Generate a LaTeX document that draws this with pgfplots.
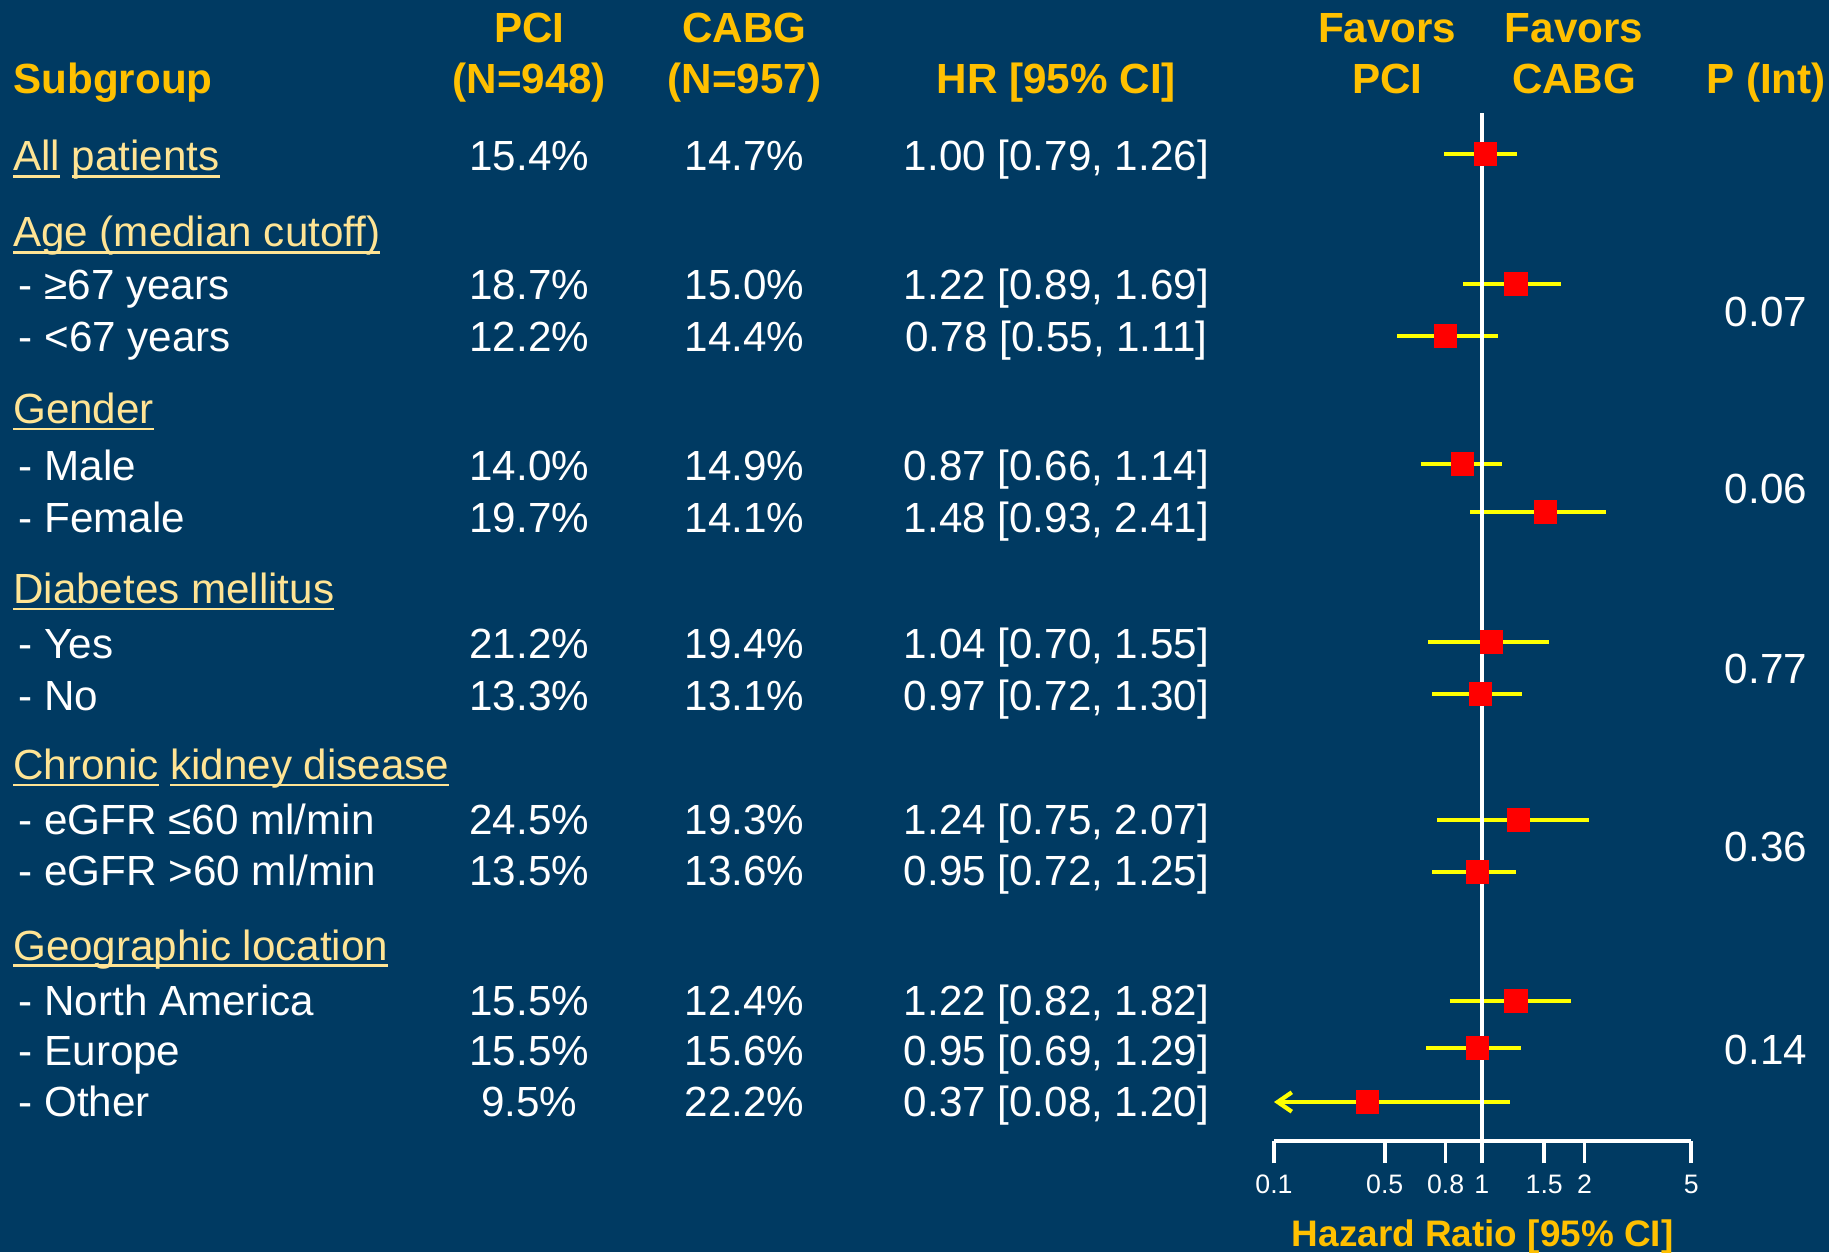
\documentclass[border=0pt]{standalone}
\usepackage{fontspec}
\setmainfont{Liberation Sans}
\usepackage{pgfplots}
\pgfplotsset{compat=1.18}
\usepackage{pgfplotstable}
\usetikzlibrary{arrows.meta}
\definecolor{bg}{RGB}{0,58,98}
\definecolor{gold}{RGB}{255,192,0}
\definecolor{head}{RGB}{255,228,148}
\definecolor{ciyellow}{RGB}{255,255,0}
\newlength\ulw
\newcommand\ul[1]{\settowidth{\ulw}{#1}\rlap{\rule[-0.16em]{\ulw}{0.065em}}#1}

% hazard ratio, 95% CI, row position
\pgfplotstableread{
hr   lo   hi   y
1.00 0.79 1.26 1098
1.22 0.89 1.69 968
0.78 0.55 1.11 916
0.87 0.66 1.14 788
1.48 0.93 2.41 740
1.04 0.70 1.55 610
0.97 0.72 1.30 558
1.24 0.75 2.07 432
0.95 0.72 1.25 380
1.22 0.82 1.82 251
0.95 0.69 1.29 204
0.37 0.08 1.20 150
}\forest

\begin{document}
\begin{tikzpicture}
\fill[bg] (0,0) rectangle (18.29cm,12.52cm);
\useasboundingbox (0,0) rectangle (18.29cm,12.52cm);

\begin{scope}[shift={(0cm,12.52cm)}, x=0.01cm, y=-0.01cm,
  tb/.style={inner sep=0pt, text=white, font=\fontsize{12}{14}\selectfont, anchor=base},
  tl/.style={inner sep=0pt, text=white, font=\fontsize{12}{14}\selectfont, anchor=base west},
  hd/.style={inner sep=0pt, text=gold, font=\bfseries\fontsize{12}{14}\selectfont, anchor=base},
  hg/.style={inner sep=0pt, text=head, font=\fontsize{12}{14}\selectfont, anchor=base west}]
% header
\node[hd] at (529.6,43) {PCI};
\node[hd] at (745,43) {CABG};
\node[hd] at (1388,43) {Favors};
\node[hd] at (1575,43) {Favors};
\node[hd,anchor=base west] at (12.8,94) {Subgroup};
\node[hd] at (529.6,94) {(N=948)};
\node[hd] at (745,94) {(N=957)};
\node[hd] at (1057,94) {HR [95\% CI]};
\node[hd] at (1388,94) {PCI};
\node[hd] at (1575,94) {CABG};
\node[hd] at (1767,94) {P (Int)};
% rows
\node[hg] at (12.5,171) {\ul{All} \ul{patients}};
\node[tb] at (529.6,171) {15.4\%};
\node[tb] at (745,171) {14.7\%};
\node[tb] at (1057,171) {1.00 [0.79, 1.26]};

\node[hg] at (12.5,247) {\ul{Age (median cutoff)}};
\node[tl] at (18,300) {- ≥67 years};
\node[tb] at (529.6,300) {18.7\%};
\node[tb] at (745,300) {15.0\%};
\node[tb] at (1057,300) {1.22 [0.89, 1.69]};
\node[tl] at (18,352) {- <67 years};
\node[tb] at (529.6,352) {12.2\%};
\node[tb] at (745,352) {14.4\%};
\node[tb] at (1057,352) {0.78 [0.55, 1.11]};
\node[tb] at (1767,327) {0.07};

\node[hg] at (12.5,424) {\ul{Gender}};
\node[tl] at (18,481) {- Male};
\node[tb] at (529.6,481) {14.0\%};
\node[tb] at (745,481) {14.9\%};
\node[tb] at (1057,481) {0.87 [0.66, 1.14]};
\node[tl] at (18,533) {- Female};
\node[tb] at (529.6,533) {19.7\%};
\node[tb] at (745,533) {14.1\%};
\node[tb] at (1057,533) {1.48 [0.93, 2.41]};
\node[tb] at (1767,504) {0.06};

\node[hg] at (12.5,604) {\ul{Diabetes mellitus}};
\node[tl] at (18,659) {- Yes};
\node[tb] at (529.6,659) {21.2\%};
\node[tb] at (745,659) {19.4\%};
\node[tb] at (1057,659) {1.04 [0.70, 1.55]};
\node[tl] at (18,711) {- No};
\node[tb] at (529.6,711) {13.3\%};
\node[tb] at (745,711) {13.1\%};
\node[tb] at (1057,711) {0.97 [0.72, 1.30]};
\node[tb] at (1767,684) {0.77};

\node[hg] at (12.5,780) {\ul{Chronic} \ul{kidney disease}};
\node[tl] at (18,835) {- eGFR ≤60 ml/min};
\node[tb] at (529.6,835) {24.5\%};
\node[tb] at (745,835) {19.3\%};
\node[tb] at (1057,835) {1.24 [0.75, 2.07]};
\node[tl] at (18,886) {- eGFR >60 ml/min};
\node[tb] at (529.6,886) {13.5\%};
\node[tb] at (745,886) {13.6\%};
\node[tb] at (1057,886) {0.95 [0.72, 1.25]};
\node[tb] at (1767,862) {0.36};

\node[hg] at (12.5,961) {\ul{Geographic location}};
\node[tl] at (18,1016) {- North America};
\node[tb] at (529.6,1016) {15.5\%};
\node[tb] at (745,1016) {12.4\%};
\node[tb] at (1057,1016) {1.22 [0.82, 1.82]};
\node[tl] at (18,1066) {- Europe};
\node[tb] at (529.6,1066) {15.5\%};
\node[tb] at (745,1066) {15.6\%};
\node[tb] at (1057,1066) {0.95 [0.69, 1.29]};
\node[tl] at (18,1117) {- Other};
\node[tb] at (529.6,1117) {9.5\%};
\node[tb] at (745,1117) {22.2\%};
\node[tb] at (1057,1117) {0.37 [0.08, 1.20]};
\node[tb] at (1767,1065) {0.14};
\end{scope}

\begin{axis}[
  x coord trafo/.code={%
    \begingroup
    \pgfkeys{/pgf/fpu=true,/pgf/fpu/output format=fixed}%
    \pgfmathparse{#1}\let\hrin\pgfmathresult
    \pgfkeys{/pgf/fpu=false}%
    \pgfmathsetmacro\hrl{ln(\hrin)}%
    \pgfmathparse{\hrl < -0.693147 ? 1274+110.8*(\hrl+2.302585)/1.609438 :
      (\hrl < -0.223144 ? 1384.8+60.9*(\hrl+0.693147)/0.470004 :
      (\hrl < 0 ? 1445.7+36.2*(\hrl+0.223144)/0.223144 :
      (\hrl < 0.405465 ? 1481.9+62.4*\hrl/0.405465 :
      (\hrl < 0.693147 ? 1544.3+40.3*(\hrl-0.405465)/0.287682 :
       1584.6+106.7*(\hrl-0.693147)/0.916291))))}%
    \xdef\hrtrafores{\pgfmathresult}%
    \endgroup
    \let\pgfmathresult\hrtrafores
  },
  at={(12.74cm,1.11cm)}, anchor=south west,
  scale only axis, width=4.173cm, height=10.28cm,
  xmin=0.1, xmax=5, ymin=111, ymax=1139,
  axis x line=bottom, axis y line=none,
  x axis line style={white, line width=1pt, -},
  xtick={0.1,0.5,0.8,1,1.5,2,5},
  xticklabels={0.1,0.5,0.8,1,1.5,2,5},
  tick align=outside, major tick length=0.22cm,
  x tick style={white, line width=1.05pt},
  xticklabel style={text=white, font=\fontsize{7.6}{8}\selectfont, inner sep=0pt, anchor=north},
  xticklabel shift=0.115cm,
  xlabel={Hazard Ratio [95\% CI]},
  xlabel style={text=gold, font=\bfseries\fontsize{10.5}{12}\selectfont,
    at={(axis description cs:0.5,-0.1031)}, anchor=base, inner sep=0pt},
  clip=false,
  ciline/.style={ciyellow, line width=1.1pt},
]
\pgfplotsforeachungrouped \i in {0,...,10}{%
  \pgfplotstablegetelem{\i}{lo}\of{\forest}\let\cilo\pgfplotsretval
  \pgfplotstablegetelem{\i}{hi}\of{\forest}\let\cihi\pgfplotsretval
  \pgfplotstablegetelem{\i}{y}\of{\forest}\let\ciy\pgfplotsretval
  \edef\temp{\noexpand\addplot[ciline] coordinates {(\cilo,\ciy) (\cihi,\ciy)};}\temp
}
% "Other": lower bound 0.08 lies below the axis minimum, drawn truncated with an arrow at 0.1
\addplot[ciline, -{Straight Barb[length=4pt,width=5.5pt,line width=1.2pt]}] coordinates {(1.20,150) (0.1,150)};
\addplot[white, line width=1.1pt] coordinates {(1,111) (1,1139)};
\addplot[only marks, mark=square*, mark size=3.08pt, mark options={draw=red, fill=red, xshift=1pt}] table[x=hr, y=y] {\forest};
\end{axis}
\end{tikzpicture}
\end{document}
